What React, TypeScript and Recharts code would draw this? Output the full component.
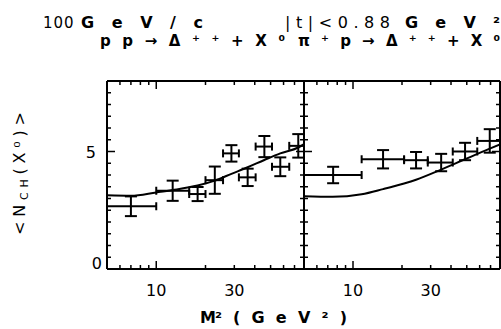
import React from "react";
import { ComposedChart, Line, Scatter, ErrorBar, XAxis, YAxis } from "recharts";

// ---- axis ticks ----
const xTicks = [5, 6, 7, 8, 9, 10, 20, 30, 40, 50, 60, 70, 80];
const xTickLabels = [10, 30];
const xMajor = [10];
const yTicks = [0, 0.5, 1, 1.5, 2, 2.5, 3, 3.5, 4, 4.5, 5, 5.5, 6, 6.5, 7, 7.5, 8];
const yTickLabels = [0, 5];

// ---- pp -> Δ++ + X0 ----
const ppM2 = [7, 12.6, 17.9, 22.8, 28.8, 36.2, 45.8, 57.3, 73.8];
const ppBinLo = [5, 10, 15.9, 20, 25.6, 32, 40.5, 51, 65];
const ppBinHi = [10, 15.9, 20, 25.6, 32, 40.5, 51, 65, 80];
const ppN = [2.67, 3.33, 3.19, 3.78, 4.92, 3.9, 5.21, 4.35, 5.24];
const ppNErr = [0.42, 0.43, 0.3, 0.58, 0.35, 0.37, 0.45, 0.4, 0.5];
const ppCurveM2 = [5, 7, 10, 12.6, 17.9, 22.8, 28.8, 36.2, 45.8, 57.3, 73.8, 80];
const ppCurveN = [3.14, 3.12, 3.26, 3.36, 3.55, 3.76, 4.05, 4.33, 4.64, 4.92, 5.17, 5.31];

// ---- π+p -> Δ++ + X0 ----
const piM2 = [7.55, 15.3, 24.4, 34.8, 48.8, 69.2];
const piBinLo = [5, 11.3, 20.6, 28.8, 41, 58];
const piBinHi = [11.3, 20.6, 28.8, 41, 58, 80];
const piN = [4.0, 4.67, 4.63, 4.53, 5.0, 5.45];
const piNErr = [0.35, 0.39, 0.35, 0.37, 0.37, 0.5];
const piCurveM2 = [5, 7.5, 11.3, 15.3, 20.6, 24.4, 34.8, 48.8, 69.2, 80];
const piCurveN = [3.1, 3.07, 3.18, 3.4, 3.64, 3.8, 4.23, 4.67, 5.12, 5.3];

const FONT = "DejaVu Sans";

const makePoints = (m: number[], lo: number[], hi: number[], n: number[], e: number[]) =>
  m.map((v, i) => ({ m2: v, n: n[i], ex: [v - lo[i], hi[i] - v], ey: e[i] }));
const makeCurve = (m: number[], n: number[]) => m.map((v, i) => ({ m2: v, n: n[i] }));

const ppPoints = makePoints(ppM2, ppBinLo, ppBinHi, ppN, ppNErr);
const piPoints = makePoints(piM2, piBinLo, piBinHi, piN, piNErr);
const ppCurve = makeCurve(ppCurveM2, ppCurveN);
const piCurve = makeCurve(piCurveM2, piCurveN);

const BottomTick = (props: any) => {
  const { x, y, payload } = props;
  const v = payload.value;
  const len = xMajor.includes(v) ? 8 : 4;
  return (
    <g>
      <line x1={x} x2={x} y1={y} y2={y - len} stroke="#000" strokeWidth={1.5} />
      {xTickLabels.includes(v) && (
        <text x={x} y={y + 27} textAnchor="middle" fontFamily={FONT} fontSize={16} fill="#000">
          {v}
        </text>
      )}
    </g>
  );
};

const TopTick = (props: any) => {
  const { x, y, payload } = props;
  const v = payload.value;
  const len = xMajor.includes(v) ? 8 : 4;
  return <line x1={x} x2={x} y1={y} y2={y + len} stroke="#000" strokeWidth={1.5} />;
};

const makeLeftTick = (labels: boolean) => (props: any) => {
  const { x, y, payload } = props;
  const v = payload.value;
  const len = yTickLabels.includes(v) ? 8 : 4;
  return (
    <g>
      <line x1={x} x2={x + len} y1={y} y2={y} stroke="#000" strokeWidth={1.5} />
      {labels && yTickLabels.includes(v) && (
        <text
          x={x - (v === 0 ? 5 : 11)}
          y={y + 6 - (v === 0 ? 6 : 0)}
          textAnchor="end"
          fontFamily={FONT}
          fontSize={16}
          fill="#000"
        >
          {v}
        </text>
      )}
    </g>
  );
};

const RightTick = (props: any) => {
  const { x, y, payload } = props;
  const v = payload.value;
  const len = yTickLabels.includes(v) ? 8 : 4;
  return <line x1={x} x2={x - len} y1={y} y2={y} stroke="#000" strokeWidth={1.5} />;
};

const axisLine = { stroke: "#000", strokeWidth: 2 };

type PanelProps = {
  points: any[];
  curve: any[];
  left: number;
  width: number;
  marginLeft: number;
  leftW: number;
  rightW: number;
  labels: boolean;
};

const Panel = ({ points, curve, left, width, marginLeft, leftW, rightW, labels }: PanelProps) => (
  <div style={{ position: "absolute", left, top: 0 }}>
    <ComposedChart
      width={width}
      height={329}
      margin={{ top: 71, right: 0, bottom: 30, left: marginLeft }}
    >
      <XAxis
        dataKey="m2"
        type="number"
        scale="log"
        domain={[5, 80]}
        allowDataOverflow
        ticks={xTicks}
        interval={0}
        tickSize={0}
        tickMargin={0}
        tickLine={false}
        axisLine={axisLine}
        tick={BottomTick}
        height={30}
      />
      <XAxis
        xAxisId="top"
        orientation="top"
        dataKey="m2"
        type="number"
        scale="log"
        domain={[5, 80]}
        allowDataOverflow
        ticks={xTicks}
        interval={0}
        tickSize={0}
        tickMargin={0}
        tickLine={false}
        axisLine={axisLine}
        tick={TopTick}
        height={10}
      />
      <YAxis
        type="number"
        domain={[0, 8]}
        allowDataOverflow
        ticks={yTicks}
        interval={0}
        tickSize={0}
        tickMargin={0}
        tickLine={false}
        axisLine={axisLine}
        tick={makeLeftTick(labels)}
        width={leftW}
      />
      <YAxis
        yAxisId="right"
        orientation="right"
        type="number"
        domain={[0, 8]}
        allowDataOverflow
        ticks={yTicks}
        interval={0}
        tickSize={0}
        tickMargin={0}
        tickLine={false}
        axisLine={axisLine}
        tick={RightTick}
        width={rightW}
      />
      <Line
        data={curve}
        dataKey="n"
        type="monotone"
        stroke="#000"
        strokeWidth={2}
        dot={false}
        isAnimationActive={false}
      />
      <Scatter
        data={points}
        dataKey="n"
        isAnimationActive={false}
        shape={(p: any) => <circle cx={p.cx} cy={p.cy} r={0} fill="none" />}
      >
        <ErrorBar dataKey="ex" direction="x" width={4} stroke="#000" strokeWidth={2} isAnimationActive={false} />
        <ErrorBar dataKey="ey" direction="y" width={6} stroke="#000" strokeWidth={2} isAnimationActive={false} />
      </Scatter>
    </ComposedChart>
  </div>
);

export default function App() {
  return (
    <div
      style={{
        position: "fixed",
        left: 0,
        top: 0,
        width: 501,
        height: 329,
        background: "#fff",
        overflow: "hidden",
      }}
    >
      <Panel points={ppPoints} curve={ppCurve} left={0} width={310} marginLeft={67} leftW={40} rightW={6} labels />
      <Panel points={piPoints} curve={piCurve} left={300} width={201} marginLeft={0} leftW={4} rightW={1} labels={false} />
      <svg
        width={501}
        height={329}
        style={{ position: "absolute", left: 0, top: 0, pointerEvents: "none" }}
        fontFamily={FONT}
        fill="#000"
      >
        <text x={43} y={28} fontSize={15} letterSpacing={1}>100</text>
        <text x={81} y={28} fontSize={16} fontWeight="bold" textLength={122} lengthAdjust="spacing">GeV/c</text>
        <text x={285} y={28} fontSize={16} textLength={105} lengthAdjust="spacing">|t|&lt;0.88</text>
        <text x={405} y={28} fontSize={16} fontWeight="bold" textLength={95} lengthAdjust="spacing">GeV²</text>
        <text x={100} y={46} fontSize={15} fontWeight="bold" textLength={185} lengthAdjust="spacing">pp→Δ⁺⁺+X⁰</text>
        <text x={298} y={46} fontSize={15} fontWeight="bold" textLength={202} lengthAdjust="spacing">π⁺p→Δ⁺⁺+X⁰</text>
        <text x={200} y={323} fontSize={16} fontWeight="bold" textLength={22} lengthAdjust="spacing">M²</text>
        <text x={233} y={323} fontSize={16} fontWeight="bold" textLength={114} lengthAdjust="spacing">(GeV²)</text>
        <text
          transform="translate(25,235) rotate(-90)"
          x={0}
          y={0}
          fontSize={16}
          textLength={123}
          lengthAdjust="spacing"
        >
          &lt;N<tspan fontSize={11} dy={3}>CH</tspan><tspan dy={-3}>(X⁰)&gt;</tspan>
        </text>
      </svg>
    </div>
  );
}
